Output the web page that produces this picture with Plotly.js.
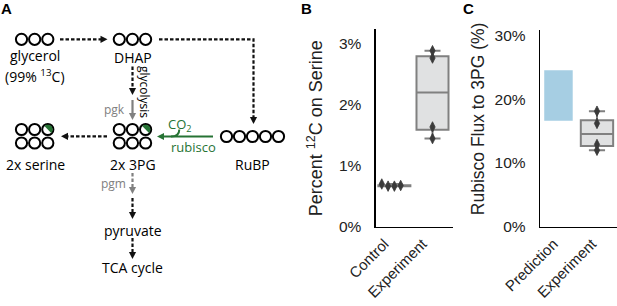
<!DOCTYPE html>
<html><head><meta charset="utf-8">
<script src="https://cdn.plot.ly/plotly-3.0.1.min.js"></script>
<style>html,body{margin:0;padding:0;background:#fff;}#chart{width:617px;height:306px;}</style>
</head><body><div id="chart"></div>
<script>
// ---------------- data ----------------
const serineCategories = ['Control', 'Experiment'];
const serineControl = [0.705, 0.67, 0.67, 0.68];
const serineExperiment = [1.45, 1.64, 2.77, 2.89];
const serineTickVals = [0, 1, 2, 3];
const serineTitle = 'Percent <sup>12</sup>C on Serine';

const fluxCategories = ['Prediction', 'Experiment'];
const fluxPredictionLow = [16.6];
const fluxPredictionHigh = [24.5];
const fluxExperiment = [12.0, 12.9, 16.2, 18.1];
const fluxTickVals = [0, 10, 20, 30];
const fluxTitle = 'Rubisco Flux to 3PG (%)';

// pathway diagram labels
const nodeLabels = ['glycerol', '(99% <sup>13</sup>C)', 'DHAP', '2x serine', '2x 3PG', 'RuBP', 'pyruvate', 'TCA cycle'];
const enzymeLabels = ['glycolysis', 'pgk', 'pgm', 'CO<sub>2</sub>', 'rubisco'];
const panelLetters = ['A', 'B', 'C'];

// ---------------- layout constants ----------------
const W = 617, H = 306;
const FONT = 'Liberation Sans, Arial, sans-serif';
const DFONT = 'Open Sans, Noto Sans, sans-serif';
const BLACK = '#111', GRAY = 'rgb(128,128,128)', GREEN = 'rgb(38,115,52)';
const B = {x0: 375.7, x1: 452.7, y0: 29, y1: 227, xr: [-0.49, 1.53], yr: [0, 3.246], shift: -10};
const C = {x0: 540, x1: 617, y0: 30, y1: 227, xr: [-0.48, 1.52], yr: [0, 30.8], shift: -5};

function pct(arr, p) {
  const s = [...arr].sort((a, b) => a - b);
  const i = (s.length - 1) * p, lo = Math.floor(i), hi = Math.ceil(i);
  return s[lo] + (s[hi] - s[lo]) * (i - lo);
}
function stats(arr) {
  const q1 = pct(arr, 0.25), med = pct(arr, 0.5), q3 = pct(arr, 0.75), iqr = q3 - q1;
  const lo = Math.min(...arr.filter(v => v >= q1 - 1.5 * iqr));
  const hi = Math.max(...arr.filter(v => v <= q3 + 1.5 * iqr));
  return {q1, med, q3, lo, hi};
}
function swarm(values, center, P) {
  const pxX = (P.x1 - P.x0) / (P.xr[1] - P.xr[0]);
  const pxY = (P.y1 - P.y0) / (P.yr[1] - P.yr[0]);
  const spacing = 6.3, collide = 5.5;
  const placed = [], out = values.map(() => center);
  const order = values.map((v, i) => i).sort((a, b) => values[a] - values[b]);
  for (const i of order) {
    const yp = values[i] * pxY;
    for (let k = 0; k < 30; k++) {
      const off = k === 0 ? 0 : (k % 2 === 1 ? -1 : 1) * Math.ceil(k / 2) * spacing;
      if (placed.every(p => Math.hypot(p.x - off, p.y - yp) >= collide)) {
        placed.push({x: off, y: yp}); out[i] = center + off / pxX; break;
      }
    }
  }
  return out;
}
function boxTrace(vals, xpos, xa, ya) {
  const s = stats(vals);
  return {type: 'box', x: [xpos], q1: [s.q1], median: [s.med], q3: [s.q3],
    lowerfence: [s.lo], upperfence: [s.hi], width: 0.84, whiskerwidth: 0.5,
    fillcolor: 'rgb(224,225,226)', line: {color: GRAY, width: 2},
    boxpoints: false, xaxis: xa, yaxis: ya, hoverinfo: 'skip', showlegend: false};
}
function pointsTrace(vals, xpos, P, xa, ya) {
  return {type: 'scatter', mode: 'markers', x: swarm(vals, xpos, P), y: vals,
    marker: {symbol: 'diamond-tall', size: 7.5, color: '#3a3a3a', line: {color: '#3a3a3a', width: 0.8}},
    xaxis: xa, yaxis: ya, hoverinfo: 'skip', showlegend: false, cliponaxis: false};
}

const traces = [];
// Panel B
traces.push(boxTrace(serineControl, 0, 'x', 'y'));
traces.push(boxTrace(serineExperiment, 1, 'x', 'y'));
traces.push(pointsTrace(serineControl, 0, B, 'x', 'y'));
traces.push(pointsTrace(serineExperiment, 1, B, 'x', 'y'));
// Panel C
traces.push({type: 'bar', x: [0], base: fluxPredictionLow, y: fluxPredictionHigh.map((h, i) => h - fluxPredictionLow[i]),
  width: 0.74, marker: {color: '#a6cee3', line: {width: 0}}, xaxis: 'x2', yaxis: 'y2', hoverinfo: 'skip', showlegend: false});
traces.push(boxTrace(fluxExperiment, 1, 'x2', 'y2'));
traces.push(pointsTrace(fluxExperiment, 1, C, 'x2', 'y2'));

// ---------------- Panel A diagram (pixel coordinates on x3/y3) ----------------
const pitch = 13.15;
const groups = [
  {x: 21.5, y: [39.3], n: 3}, {x: 119.3, y: [39.3], n: 3},
  {x: 21.5, y: [129.5, 143], n: 3}, {x: 119.3, y: [129.5, 143], n: 3},
  {x: 226.5, y: [136.5], n: 5, p: 13}
];
const cx = [], cy = [];
groups.forEach(g => g.y.forEach(yy => { for (let i = 0; i < g.n; i++) { cx.push(g.x + i * (g.p || pitch)); cy.push(yy); } }));
traces.push({type: 'scatter', mode: 'markers', x: cx, y: cy, xaxis: 'x3', yaxis: 'y3', cliponaxis: false,
  marker: {symbol: 'circle', size: 11.2, color: '#fff', line: {color: '#000', width: 2}}, hoverinfo: 'skip', showlegend: false});

const shapes = [];
function halfDisc(x, y, r) {
  let d = '';
  for (let k = 0; k <= 24; k++) {
    const a = (135 - 180 * k / 24) * Math.PI / 180;
    d += (k === 0 ? 'M' : 'L') + (x + r * Math.cos(a)).toFixed(2) + ',' + (y - r * Math.sin(a)).toFixed(2);
  }
  shapes.push({type: 'path', path: d + 'Z', xref: 'x3', yref: 'y3', fillcolor: GREEN, line: {width: 0}, layer: 'above'});
}
halfDisc(21.5 + 2 * pitch, 129.5, 4.8);
halfDisc(119.3 + 2 * pitch, 129.5, 4.8);

function arrow(pts, color, dash) {
  const n = pts.length, [xa, ya] = pts[n - 2], [xb, yb] = pts[n - 1];
  const L = Math.hypot(xb - xa, yb - ya), ux = (xb - xa) / L, uy = (yb - ya) / L;
  const hl = 7, hw = 3.6;
  const bx = xb - ux * hl, by = yb - uy * hl;
  let d = '';
  pts.forEach((p, i) => {
    const q = i === n - 1 ? [bx + ux * 1, by + uy * 1] : p;
    d += (i === 0 ? 'M' : 'L') + q[0] + ',' + q[1];
  });
  shapes.push({type: 'path', path: d, xref: 'x3', yref: 'y3', line: {color: color, width: 2.2, dash: dash ? '3.5px,2px' : 'solid'}, layer: 'above'});
  const head = 'M' + xb + ',' + yb + 'L' + (bx - uy * hw) + ',' + (by + ux * hw) + 'L' + (bx + uy * hw) + ',' + (by - ux * hw) + 'Z';
  shapes.push({type: 'path', path: head, xref: 'x3', yref: 'y3', fillcolor: color, line: {width: 0}, layer: 'above'});
}
arrow([[60, 39.3], [107.5, 39.3]], BLACK, true);
arrow([[159, 39.3], [253.5, 39.3], [253.5, 124]], BLACK, true);
arrow([[132.5, 66.5], [132.5, 95]], BLACK, true);
arrow([[132.5, 100], [132.5, 120]], GRAY, false);
arrow([[107, 136.3], [61, 136.3]], BLACK, true);
arrow([[213, 136.5], [157, 136.5]], GREEN, false);
arrow([[132.5, 173], [132.5, 194]], GRAY, true);
arrow([[132.5, 198], [132.5, 219]], BLACK, true);
arrow([[132.5, 238], [132.5, 259]], BLACK, true);
shapes.push({type: 'path', path: 'M179.3,129.5 Q179.3,136.5 171,136.5', xref: 'x3', yref: 'y3', line: {color: GREEN, width: 2}, layer: 'above'});

const annotations = [];
function dtext(t, x, y, opt) {
  opt = opt || {};
  annotations.push({text: t, x: x, y: y, xref: 'x3', yref: 'y3', showarrow: false, xanchor: 'center', yanchor: 'middle',
    textangle: opt.angle || 0, font: {family: DFONT, size: opt.size || 14, color: opt.color || '#000'}});
}
const nodePos = [[35, 55], [35, 75.5], [132.5, 57.5], [35, 164], [132.5, 164], [252.5, 164], [132.5, 230.5], [132.5, 267]];
nodeLabels.forEach((t, i) => dtext(t, nodePos[i][0], nodePos[i][1]));
dtext(enzymeLabels[0], 144.5, 91.5, {angle: 90, size: 12});
dtext(enzymeLabels[1], 114.5, 109, {color: GRAY, size: 12});
dtext(enzymeLabels[2], 113, 183, {color: GRAY, size: 12});
dtext(enzymeLabels[3], 179.5, 124.5, {color: GREEN, size: 13});
dtext(enzymeLabels[4], 193, 147, {color: GREEN, size: 13});

// panel letters
[[6.3, 8], [306.7, 8], [469, 8.3]].forEach((p, i) => annotations.push({text: '<b>' + panelLetters[i] + '</b>', x: p[0] / W, y: 1 - p[1] / H,
  xref: 'paper', yref: 'paper', showarrow: false, xanchor: 'center', yanchor: 'middle', font: {family: FONT, size: 15, color: '#000'}}));
// y-axis titles
annotations.push({text: serineTitle, x: 315 / W, y: 1 - 128.3 / H, xref: 'paper', yref: 'paper', showarrow: false, textangle: -90,
  xanchor: 'center', yanchor: 'middle', font: {family: FONT, size: 18, color: '#222'}});
annotations.push({text: fluxTitle, x: 478 / W, y: 1 - 119.2 / H, xref: 'paper', yref: 'paper', showarrow: false, textangle: -90,
  xanchor: 'center', yanchor: 'middle', font: {family: FONT, size: 17.5, color: '#222'}});

function xax(P, cats) {
  return {domain: [P.x0 / W, P.x1 / W], range: P.xr, tickvals: [0, 1], ticktext: cats, tickangle: -45,
    showline: true, linecolor: '#000', linewidth: 1.3, ticks: '', showgrid: false, zeroline: false, fixedrange: true,
    ticklabelshift: P.shift, ticklabelstandoff: 1,
    tickfont: {family: FONT, size: 15, color: '#222'}};
}
function yax(P, vals, xa) {
  return {domain: [1 - P.y1 / H, 1 - P.y0 / H], range: P.yr, tickmode: 'array', tickvals: vals,
    ticktext: vals.map(v => v + '%'), anchor: xa,
    showline: true, linecolor: '#000', linewidth: 1.3, ticks: '', showgrid: false, zeroline: false, fixedrange: true,
    ticklabelstandoff: 10, tickfont: {family: FONT, size: 15.5, color: '#222'}};
}
const layout = {
  width: W, height: H, margin: {l: 0, r: 0, t: 0, b: 0}, paper_bgcolor: '#fff', plot_bgcolor: 'rgba(0,0,0,0)',
  showlegend: false, barmode: 'overlay',
  xaxis: Object.assign(xax(B, serineCategories), {anchor: 'y'}),
  yaxis: yax(B, serineTickVals, 'x'),
  xaxis2: Object.assign(xax(C, fluxCategories), {anchor: 'y2'}),
  yaxis2: yax(C, fluxTickVals, 'x2'),
  xaxis3: {domain: [0, 300 / W], range: [0, 300], visible: false, fixedrange: true, anchor: 'y3'},
  yaxis3: {domain: [0, 1], range: [H, 0], visible: false, fixedrange: true, anchor: 'x3'},
  shapes: shapes, annotations: annotations
};
Plotly.newPlot('chart', traces, layout, {staticPlot: true, displayModeBar: false});
</script></body></html>
